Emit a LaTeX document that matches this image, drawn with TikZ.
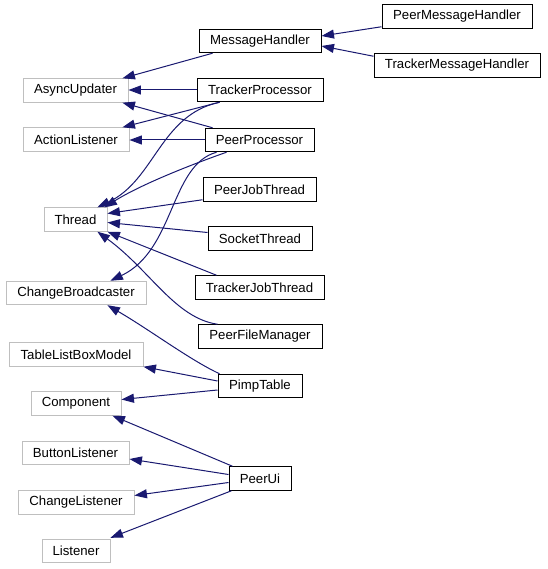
\documentclass[tikz,border=0pt]{standalone}
\usepackage{fontspec}
\setmainfont{Liberation Sans}
\usetikzlibrary{arrows.meta,calc}
\definecolor{edgeblue}{HTML}{191970}
\definecolor{extgrey}{HTML}{BFBFBF}
\tikzset{
  cls/.style={draw=black, line width=1pt, inner sep=0pt, minimum height=23.5pt, font=\fontsize{13.2}{16}\selectfont},
  ext/.style={draw=extgrey, line width=0.9pt, inner sep=0pt, minimum height=23.5pt, font=\fontsize{13.2}{16}\selectfont},
  edge/.style={draw=edgeblue, line width=1pt, -{Triangle[length=12.5pt,width=9pt]}, fill=none},
}
\begin{document}
\begin{tikzpicture}[x=1pt,y=-1pt]
\useasboundingbox (0,0) rectangle (547,569);
% internal classes
\node[cls, minimum width=122pt] (mh)   at (260,41)    {MessageHandler};
\node[cls, minimum width=150pt] (pmh)  at (457,16.5)  {PeerMessageHandler};
\node[cls, minimum width=166pt] (tmh)  at (457,65.5)  {TrackerMessageHandler};
\node[cls, minimum width=126pt] (tp)   at (260,90)    {TrackerProcessor};
\node[cls, minimum width=109pt] (pp)   at (259.5,140) {PeerProcessor};
\node[cls, minimum width=113pt] (pjt)  at (259.5,189.5) {PeerJobThread};
\node[cls, minimum width=104pt] (st)   at (260,238.5) {SocketThread};
\node[cls, minimum width=129pt] (tjt)  at (259.5,287.5) {TrackerJobThread};
\node[cls, minimum width=124pt] (pfm)  at (260,336.5) {PeerFileManager};
\node[cls, minimum width=84pt]  (pt)   at (260,386)   {PimpTable};
\node[cls, minimum width=62pt]  (pu)   at (260,478.5) {PeerUi};
% external classes
\node[ext, minimum width=105pt] (au)   at (75.5,90.5) {AsyncUpdater};
\node[ext, minimum width=106pt] (al)   at (76,139.5)  {ActionListener};
\node[ext, minimum width=63pt]  (th)   at (75.5,219.5) {Thread};
\node[ext, minimum width=140pt] (cb)   at (76,293)    {ChangeBroadcaster};
\node[ext, minimum width=134pt] (tlbm) at (76,354.5)  {TableListBoxModel};
\node[ext, minimum width=90pt]  (comp) at (76,403.5)  {Component};
\node[ext, minimum width=107pt] (bl)   at (75.5,453)  {ButtonListener};
\node[ext, minimum width=116pt] (cl)   at (76,502.5)  {ChangeListener};
\node[ext, minimum width=68pt]  (lis)  at (76,551)    {Listener};
% edges
\draw[edge] ([shift={(14,0)}]mh.south west) -- ([shift={(-6,0)}]au.north east);
\draw[edge] ([shift={(0,-2)}]pmh.south west) -- ([shift={(0,-5)}]mh.east);
\draw[edge] ([shift={(0,3)}]tmh.north west) -- ([shift={(0,5)}]mh.east);
\draw[edge] (tp.west) -- (au.east |- tp.west);
\draw[edge] ([shift={(23,0)}]tp.south west) -- ([shift={(-7,0)}]al.north east);
\draw[edge] ([shift={(23,0)}]tp.south west) .. controls (160,115) and (155,180) .. ([shift={(-10,0)}]th.north east);
\draw[edge] ([shift={(8,0)}]pp.north west) -- ([shift={(-6,0)}]au.south east);
\draw[edge] (pp.west) -- (al.east |- pp.west);
\draw[edge] ([shift={(22,0)}]pp.south west) .. controls (190,165) and (140,185) .. ([shift={(-3,0)}]th.north east);
\draw[edge] ([shift={(12,0)}]pp.south west) .. controls (170,165) and (175,250) .. ([shift={(-36,0)}]cb.north east);
\draw[edge] ([shift={(0,-2)}]pjt.south west) -- ([shift={(0,-6)}]th.east);
\draw[edge] ([shift={(0,-6)}]st.west) -- ([shift={(0,3)}]th.east);
\draw[edge] ([shift={(22,0)}]tjt.north west) -- (th.south east);
\draw[edge] ([shift={(20,0)}]pfm.north west) .. controls (175,318) and (150,270) .. ([shift={(-10,0)}]th.south east);
\draw[edge] ([shift={(2,0)}]pt.north west) .. controls (190,360) and (150,330) .. ([shift={(-39,0)}]cb.south east);
\draw[edge] ([shift={(0,-5)}]pt.west) -- (tlbm.south east);
\draw[edge] ([shift={(0,4)}]pt.west) -- ([shift={(0,-4)}]comp.east);
\draw[edge] ([shift={(4,0)}]pu.north west) -- ([shift={(-9,0)}]comp.south east);
\draw[edge] ([shift={(0,-4)}]pu.west) -- ([shift={(0,6)}]bl.east);
\draw[edge] ([shift={(0,4)}]pu.west) -- ([shift={(0,-7)}]cl.east);
\draw[edge] ([shift={(3,0)}]pu.south west) -- ([shift={(0,-1)}]lis.north east);
\end{tikzpicture}
\end{document}
